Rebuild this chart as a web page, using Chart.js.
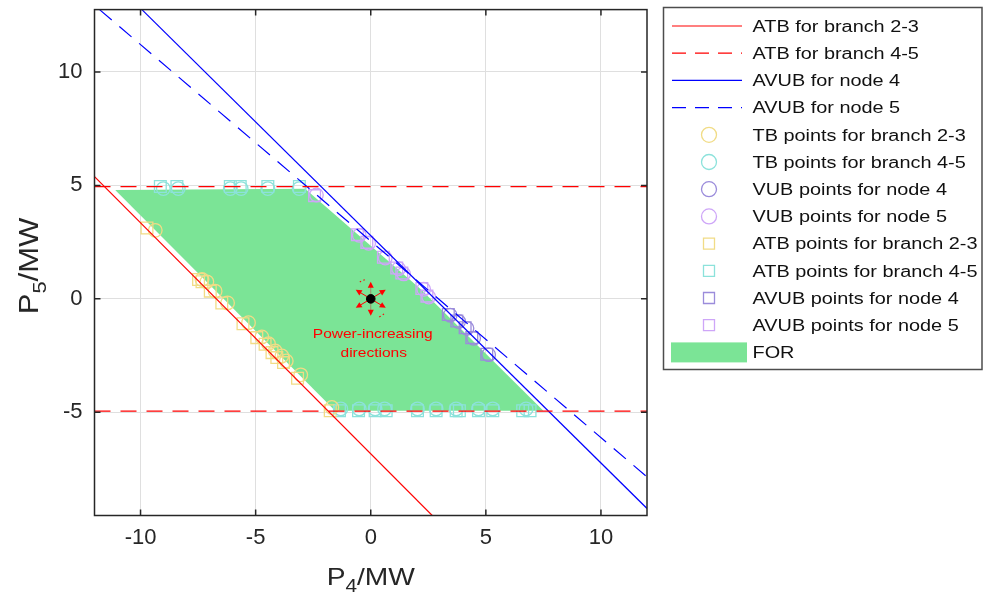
<!DOCTYPE html>
<html>
<head>
<meta charset="utf-8">
<script src="https://cdn.jsdelivr.net/npm/chart.js@4/dist/chart.umd.min.js"></script>
<style>
  html, body { margin: 0; padding: 0; background: #fff; }
  #wrap { width: 984px; height: 598px; }
</style>
</head>
<body>
<div id="wrap"><canvas id="chart" width="984" height="598"></canvas></div>
<script>
const xTicks = [-10, -5, 0, 5, 10];
const yTicks = [-5, 0, 5, 10];
const xTitle = ['P', '4', '/MW'];
const yTitle = ['P', '5', '/MW'];
const noteLines = ['Power-increasing', 'directions'];

const legendLabels = [
  'ATB for branch 2-3', 'ATB for branch 4-5', 'AVUB for node 4', 'AVUB for node 5',
  'TB points for branch 2-3', 'TB points for branch 4-5', 'VUB points for node 4', 'VUB points for node 5',
  'ATB points for branch 2-3', 'ATB points for branch 4-5', 'AVUB points for node 4', 'AVUB points for node 5',
  'FOR',
];

// boundary lines (end points)
const atb23LineX = [-12, 2.68];
const atb23LineY = [5.39, -9.56];
const atb45LineX = [-12, 12, null, -12, 12];
const atb45LineY = [4.95, 4.95, null, -4.95, -4.95];
const avub4LineX = [-9.94, 12];
const avub4LineY = [12.75, -9.24];
const avub5LineX = [-11.78, 12];
const avub5LineY = [12.75, -7.85];

// feasible operating region
const forX = [-11.1, -2.85, 2.2, 7.5, -1.55, -11.1];
const forY = [4.8, 4.85, 0.4, -4.93, -4.93, 4.8];

// TB / VUB points (circles)
const tb23X = [-9.36, -7.33, -7.12, -6.76, -6.22, -5.31, -4.73, -4.44, -4.15, -3.86, -3.67, -3.04, -1.69];
const tb23Y = [3.02, 0.85, 0.75, 0.34, -0.18, -1.05, -1.68, -1.98, -2.3, -2.52, -2.74, -3.35, -4.79];
const tb45X = [-9.01, -8.36, -6.1, -5.63, -4.47, -3.11, -1.3, -0.5, 0.19, 0.6, 2.03, 2.84, 3.71, 4.68, 5.3, 6.75];
const tb45Y = [4.86, 4.86, 4.86, 4.86, 4.86, 4.86, -4.85, -4.85, -4.85, -4.85, -4.85, -4.85, -4.85, -4.85, -4.85, -4.85];
const vub4X = [3.45, 3.82, 4.18, 4.47, 5.12];
const vub4Y = [-0.72, -1.0, -1.3, -1.74, -2.46];
const vub5X = [-2.36, -0.5, -0.09, 0.63, 1.21, 1.43, 2.3, 2.52];
const vub5Y = [4.58, 2.8, 2.45, 1.8, 1.33, 1.1, 0.42, 0.08];

// ATB / AVUB points (squares)
const atb23X = [-9.72, -7.48, -7.33, -6.97, -6.47, -5.55, -4.95, -4.59, -4.29, -4.08, -3.79, -3.18, -1.76];
const atb23Y = [3.12, 0.85, 0.75, 0.34, -0.18, -1.1, -1.71, -2.0, -2.37, -2.59, -2.81, -3.5, -4.93];
const atb45X = [-9.14, -8.42, -6.1, -5.67, -4.47, -3.1, -1.36, -0.53, 0.19, 0.67, 2.03, 2.84, 3.71, 3.85, 4.68, 5.3, 6.6, 6.92];
const atb45Y = [4.95, 4.95, 4.95, 4.95, 4.95, 4.95, -4.93, -4.93, -4.93, -4.93, -4.93, -4.93, -4.93, -4.93, -4.93, -4.93, -4.93, -4.93];
const avub4X = [3.37, 3.74, 4.1, 4.39, 5.04];
const avub4Y = [-0.69, -0.98, -1.27, -1.71, -2.44];
const avub5X = [-2.44, -0.58, -0.17, 0.55, 1.13, 1.35, 2.22, 2.44];
const avub5Y = [4.55, 2.83, 2.49, 1.83, 1.36, 1.14, 0.46, 0.12];

// direction marker
const dirX = [0];
const dirY = [0];

const RED = '#ff0000';
const BLUE = '#0000ff';
const YELLOW = '#f1dc86';
const CYAN = '#8ce2db';
const PURPLE = '#9b8cdb';
const VIOLET = '#cea6f8';
const GREEN = '#7be496';
const INK = '#262626';
const SX = 1.15;
const FONT = '"Liberation Sans", Arial, sans-serif';

const pts = (xs, ys) => xs.map((x, i) => (x === null ? { x: NaN, y: NaN } : { x, y: ys[i] }));

const lineSet = (i, xs, ys, color, dash) => ({
  label: legendLabels[i], data: pts(xs, ys), showLine: true, borderColor: color,
  borderWidth: 1.2, borderDash: dash, pointRadius: 0, spanGaps: false, order: 0,
  legendKind: 'line',
});
const markSet = (i, xs, ys, color, style) => ({
  label: legendLabels[i], data: pts(xs, ys), showLine: false, borderColor: color,
  backgroundColor: 'rgba(0,0,0,0)', pointStyle: style, pointRadius: style === 'rect' ? 8.3 : 6.8,
  pointBorderWidth: 1.3, order: 0, legendKind: 'mark',
});

const datasets = [
  lineSet(0, atb23LineX, atb23LineY, RED, []),
  lineSet(1, atb45LineX, atb45LineY, RED, [16, 10]),
  lineSet(2, avub4LineX, avub4LineY, BLUE, []),
  lineSet(3, avub5LineX, avub5LineY, BLUE, [16, 10]),
  markSet(4, tb23X, tb23Y, YELLOW, 'circle'),
  markSet(5, tb45X, tb45Y, CYAN, 'circle'),
  markSet(6, vub4X, vub4Y, PURPLE, 'circle'),
  markSet(7, vub5X, vub5Y, VIOLET, 'circle'),
  markSet(8, atb23X, atb23Y, YELLOW, 'rect'),
  markSet(9, atb45X, atb45Y, CYAN, 'rect'),
  markSet(10, avub4X, avub4Y, PURPLE, 'rect'),
  markSet(11, avub5X, avub5Y, VIOLET, 'rect'),
  {
    label: legendLabels[12], data: pts(forX, forY), showLine: true, fill: 'shape',
    backgroundColor: GREEN, borderColor: GREEN, borderWidth: 0, pointRadius: 0, order: 1,
    legendKind: 'patch',
  },
  {
    label: 'dir', data: pts(dirX, dirY), showLine: false, pointRadius: 4.3,
    backgroundColor: '#000', borderColor: '#000', order: -1, noLegend: true,
  },
];

const DOT_INDEX = datasets.length - 1;

const stretchText = (ctx, str, x, y, font, align, rot) => {
  ctx.save();
  ctx.translate(x, y);
  if (rot) ctx.rotate(rot);
  ctx.scale(SX, 1);
  ctx.font = font;
  ctx.textAlign = align;
  ctx.fillText(str, 0, 0);
  ctx.restore();
};

// label like P_4/MW, centred on (cx, cy)
const subLabel = (ctx, parts, cx, cy, rot, size) => {
  const fonts = [`${size}px ${FONT}`, `${Math.round(size * 0.72)}px ${FONT}`, `${size}px ${FONT}`];
  ctx.save();
  ctx.translate(cx, cy);
  if (rot) ctx.rotate(rot);
  ctx.scale(SX, 1);
  ctx.fillStyle = INK;
  ctx.textBaseline = 'alphabetic';
  ctx.textAlign = 'left';
  let total = 0;
  parts.forEach((p, i) => { ctx.font = fonts[i]; total += ctx.measureText(p).width; });
  let x = -total / 2;
  parts.forEach((p, i) => {
    ctx.font = fonts[i];
    ctx.fillText(p, x, i === 1 ? size * 0.3 : 0);
    x += ctx.measureText(p).width;
  });
  ctx.restore();
};

const framePlugin = {
  id: 'frame',
  beforeDatasetDraw(chart, args) {
    if (args.index !== DOT_INDEX) return;
    const { ctx, scales: { x, y } } = chart;
    const cx = x.getPixelForValue(dirX[0]);
    const cy = y.getPixelForValue(dirY[0]);
    const arrows = [[0, -17], [0, 17], [-15, -9], [15, -9], [-15, 9], [15, 9]];
    ctx.save();
    arrows.forEach(([dx, dy]) => {
      const len = Math.hypot(dx, dy);
      const ux = dx / len, uy = dy / len;
      ctx.strokeStyle = dx === 0 ? '#a08a6a' : RED;
      ctx.lineWidth = 1;
      ctx.beginPath();
      ctx.moveTo(cx, cy);
      ctx.lineTo(cx + dx - ux * 4, cy + dy - uy * 4);
      ctx.stroke();
      ctx.fillStyle = RED;
      ctx.beginPath();
      ctx.moveTo(cx + dx, cy + dy);
      ctx.lineTo(cx + dx - ux * 6 - uy * 3, cy + dy - uy * 6 + ux * 3);
      ctx.lineTo(cx + dx - ux * 6 + uy * 3, cy + dy - uy * 6 - ux * 3);
      ctx.closePath();
      ctx.fill();
    });
    ctx.strokeStyle = RED;
    ctx.lineWidth = 1.2;
    ctx.setLineDash([1.5, 2.5]);
    ctx.beginPath();
    ctx.arc(cx, cy, 20, -2.15, -1.8);
    ctx.stroke();
    ctx.beginPath();
    ctx.arc(cx, cy, 20, 0.85, 1.2);
    ctx.stroke();
    ctx.setLineDash([]);
    ctx.fillStyle = RED;
    ctx.textBaseline = 'middle';
    stretchText(ctx, noteLines[0], cx + 2, cy + 35, `13.5px ${FONT}`, 'center');
    stretchText(ctx, noteLines[1], cx + 3, cy + 54, `13.5px ${FONT}`, 'center');
    ctx.restore();
  },
  afterDatasetsDraw(chart) {
    const { ctx, chartArea: a, scales: { x, y } } = chart;
    ctx.save();
    ctx.strokeStyle = INK;
    ctx.lineWidth = 1.5;
    ctx.beginPath();
    xTicks.forEach((v) => {
      const px = x.getPixelForValue(v);
      ctx.moveTo(px, a.bottom); ctx.lineTo(px, a.bottom - 6);
      ctx.moveTo(px, a.top); ctx.lineTo(px, a.top + 6);
    });
    yTicks.forEach((v) => {
      const py = y.getPixelForValue(v);
      ctx.moveTo(a.left, py); ctx.lineTo(a.left + 6, py);
      ctx.moveTo(a.right, py); ctx.lineTo(a.right - 6, py);
    });
    ctx.stroke();
    ctx.strokeRect(a.left, a.top, a.right - a.left, a.bottom - a.top);
    ctx.restore();
  },
  afterDraw(chart) {
    const { ctx, chartArea: a } = chart;
    subLabel(ctx, xTitle, (a.left + a.right) / 2, 585, 0, 24.5);
    subLabel(ctx, yTitle, 38, 266, -Math.PI / 2, 27);

    // legend box
    ctx.save();
    ctx.strokeStyle = '#4d4d4d';
    ctx.lineWidth = 1.5;
    ctx.strokeRect(663.5, 7.5, 318.5, 362);
    const items = chart.data.datasets.filter((d) => !d.noLegend);
    items.forEach((d, i) => {
      const yy = 26 + i * 27.2;
      if (d.legendKind === 'line') {
        ctx.strokeStyle = d.borderColor;
        ctx.lineWidth = 1.2;
        ctx.setLineDash(d.borderDash.length ? [14, 9] : []);
        ctx.beginPath();
        ctx.moveTo(672, yy); ctx.lineTo(742, yy);
        ctx.stroke();
        ctx.setLineDash([]);
      } else if (d.legendKind === 'mark') {
        ctx.strokeStyle = d.borderColor;
        ctx.lineWidth = 1.3;
        ctx.beginPath();
        if (d.pointStyle === 'circle') ctx.arc(709, yy, 7.5, 0, Math.PI * 2);
        else ctx.rect(703.5, yy - 5.5, 11, 11);
        ctx.stroke();
      } else {
        ctx.fillStyle = d.backgroundColor;
        ctx.fillRect(671, yy - 10, 76, 20);
      }
      ctx.fillStyle = '#111';
      ctx.textBaseline = 'middle';
      stretchText(ctx, d.label, 752.5, yy + 1, `17.3px ${FONT}`, 'left');
    });
    ctx.restore();
  },
};

new Chart(document.getElementById('chart'), {
  type: 'scatter',
  data: { datasets },
  plugins: [framePlugin],
  options: {
    responsive: false,
    animation: false,
    devicePixelRatio: 1,
    layout: { padding: { left: 0, top: 7.5, right: 337, bottom: 0 } },
    plugins: { legend: { display: false }, tooltip: { enabled: false } },
    scales: {
      x: {
        type: 'linear', min: -12, max: 12,
        afterBuildTicks: (s) => { s.ticks = xTicks.map((v) => ({ value: v })); },
        afterFit: (s) => { s.height = 82.5; s.paddingLeft = 0; s.paddingRight = 0; },
        grid: { color: '#dfdfdf', lineWidth: 1, drawTicks: false },
        border: { display: false },
        ticks: { padding: 9, color: INK, font: { family: FONT, size: 22 } },
      },
      y: {
        type: 'linear', min: -9.55, max: 12.75,
        afterBuildTicks: (s) => { s.ticks = yTicks.map((v) => ({ value: v })); },
        afterFit: (s) => { s.width = 94.5; s.paddingTop = 0; s.paddingBottom = 0; },
        grid: { color: '#dfdfdf', lineWidth: 1, drawTicks: false },
        border: { display: false },
        ticks: { padding: 12, color: INK, font: { family: FONT, size: 22 } },
      },
    },
  },
});
</script>
</body>
</html>
